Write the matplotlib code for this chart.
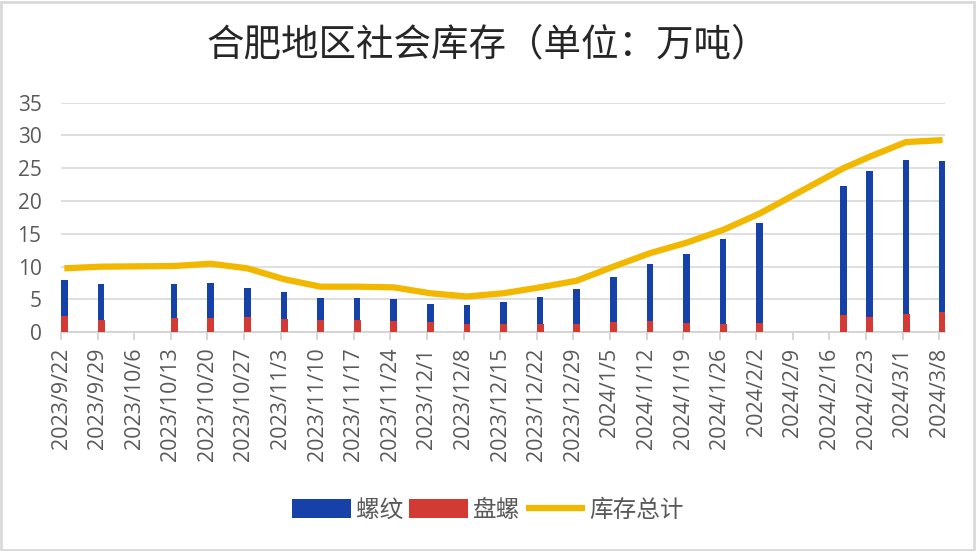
import numpy as np
import pandas as pd
import matplotlib
matplotlib.use('Agg')
import matplotlib.pyplot as plt
from matplotlib.patches import Rectangle

plt.rcParams['font.family'] = ['Open Sans', 'Noto Sans CJK SC', 'DejaVu Sans']

# weekly axis labels
tick_dates = pd.date_range('2023-09-22', '2024-03-08', freq='7D')
tick_labels = [f'{d.year}/{d.month}/{d.day}' for d in tick_dates]

# dates that actually have data (10/6 and 2/9 missing, 2/18 off-week)
data_dates = ['2023-09-22', '2023-09-29', '2023-10-13', '2023-10-20', '2023-10-27',
              '2023-11-03', '2023-11-10', '2023-11-17', '2023-11-24', '2023-12-01',
              '2023-12-08', '2023-12-15', '2023-12-22', '2023-12-29', '2024-01-05',
              '2024-01-12', '2024-01-19', '2024-01-26', '2024-02-02', '2024-02-18',
              '2024-02-23', '2024-03-01', '2024-03-08']
rebar = [7.9, 7.35, 7.35, 7.55, 6.75, 6.1, 5.2, 5.15, 5.0, 4.25, 4.1, 4.6, 5.4,
         6.55, 8.4, 10.4, 12.0, 14.2, 16.6, 22.3, 24.6, 26.2, 26.1]
coil = [2.5, 1.9, 2.1, 2.2, 2.25, 2.0, 1.9, 1.85, 1.75, 1.5, 1.2, 1.3, 1.3,
        1.2, 1.5, 1.7, 1.4, 1.3, 1.4, 2.6, 2.3, 2.8, 3.1]
total = [9.75, 10.0, 10.1, 10.45, 9.75, 8.1, 6.95, 6.95, 6.85, 5.95, 5.45, 5.95,
         6.85, 7.85, 10.0, 12.05, 13.65, 15.6, 18.1, 25.0, 26.75, 29.0, 29.3]

start = tick_dates[0]
x = np.array([(pd.Timestamp(d) - start).days / 7 for d in data_dates])
xt = np.arange(len(tick_dates))

fig = plt.figure(figsize=(9.76, 5.51), dpi=100)
ax = fig.add_axes([0.0625, 0.397, 0.9055, 0.4166])

b1 = ax.bar(x, rebar, width=0.18, align='edge', color='#1641A8', zorder=2, label='螺纹')
b2 = ax.bar(x, coil, width=0.19, align='edge', color='#D23A33', zorder=3, label='盘螺')
ln, = ax.plot(x + 0.09, total, color='#F2B800', lw=4.5, solid_joinstyle='round',
              solid_capstyle='butt', zorder=4, label='库存总计')

ax.set_ylim(0, 35)
ax.set_yticks(range(0, 36, 5))
ax.set_xlim(0, 24.15)
ax.set_xticks(xt)
ax.set_xticklabels(tick_labels, rotation=90)
ax.grid(axis='y', color='#d9d9d9', lw=1.2, zorder=0)
ax.set_axisbelow(True)
for s in ['top', 'right', 'left']:
    ax.spines[s].set_visible(False)
ax.spines['bottom'].set_color('#d0d0d0')
ax.spines['bottom'].set_linewidth(1.2)
ax.tick_params(axis='x', length=6, width=1.2, color='#d0d0d0', pad=5,
               labelsize=15.5, labelcolor='#595959')
ax.tick_params(axis='y', length=0, pad=14, labelsize=15, labelcolor='#595959')

fig.text(0.5, 0.918, '合肥地区社会库存（单位：万吨）', ha='center', va='center',
         fontsize=27, color='#262626', family=['Noto Sans CJK SC'])

leg = fig.legend([b1, b2, ln], ['螺纹', '盘螺', '库存总计'],
                 loc='center', bbox_to_anchor=(0.5, 0.073), ncol=3, frameon=False,
                 fontsize=17, handlelength=2.5, handleheight=0.9,
                 handletextpad=0.2, columnspacing=0.25, labelcolor='#595959')

fig.patches.append(Rectangle((0.001, 0.002), 0.997, 0.995, transform=fig.transFigure,
                             fill=False, edgecolor='#d9d9d9', lw=2))

fig.savefig('out.png', dpi=100)
